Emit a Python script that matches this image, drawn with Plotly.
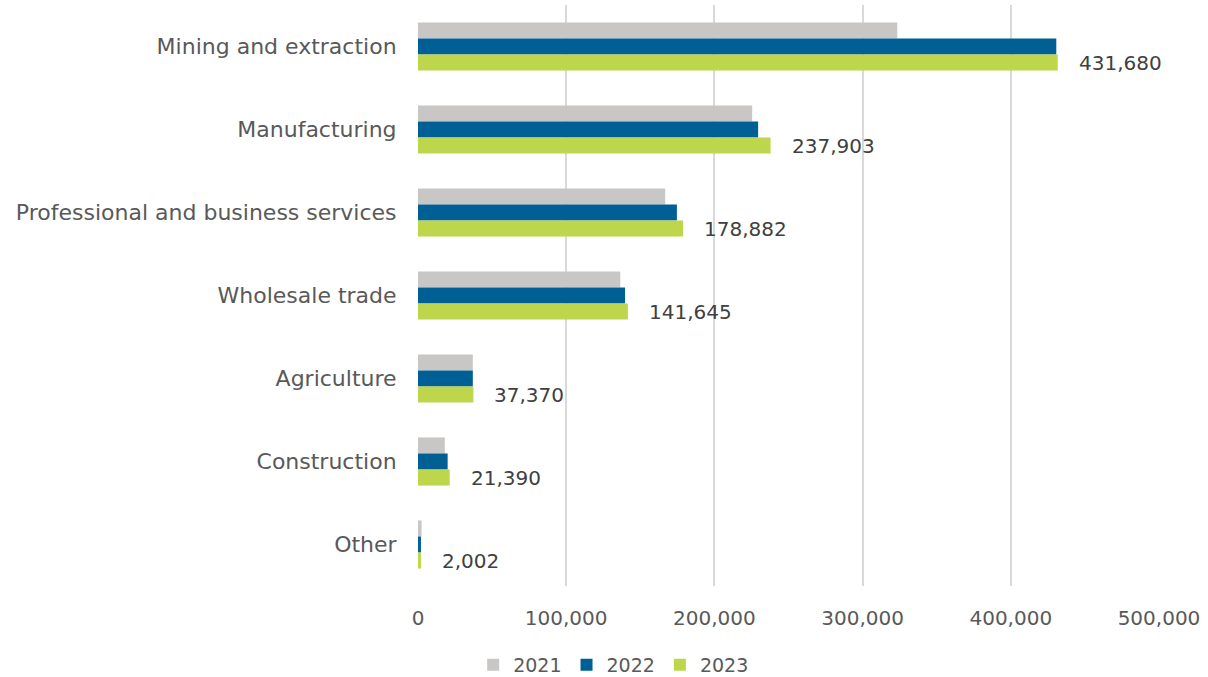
import plotly.graph_objects as go

categories = ["Mining and extraction", "Manufacturing", "Professional and business services",
              "Wholesale trade", "Agriculture", "Construction", "Other"]
years = ["2021", "2022", "2023"]
values_2021 = [323400, 225500, 166800, 136500, 37000, 18100, 2400]
values_2022 = [430700, 229500, 174700, 139700, 37000, 20000, 2000]
values_2023 = [431680, 237903, 178882, 141645, 37370, 21390, 2002]
colors = ["#c8c7c5", "#005f94", "#bed64b"]
x_ticks = [0, 100000, 200000, 300000, 400000, 500000]

FONT = "DejaVu Sans"
fig = go.Figure()
for name, vals, col in zip(years, [values_2021, values_2022, values_2023], colors):
    fig.add_trace(go.Bar(
        y=categories, x=vals, name=name, orientation="h",
        marker=dict(color=col, line=dict(width=0)),
    ))

for cat, v in zip(categories, values_2023):
    fig.add_annotation(
        x=v, y=cat, text=f"{v:,}", showarrow=False,
        xanchor="left", yanchor="middle", xshift=19, yshift=-16,
        font=dict(family=FONT, size=20, color="#404040"),
    )

fig.update_layout(
    width=1208, height=677,
    margin=dict(l=418, r=49, t=5, b=91, autoexpand=False),
    paper_bgcolor="white", plot_bgcolor="white",
    barmode="group", bargap=0.42, bargroupgap=0,
    font=dict(family=FONT, color="#595959"),
    legend=dict(orientation="h", xref="container", x=0.508, xanchor="center",
                yref="container", y=0.018, yanchor="middle",
                font=dict(family=FONT, size=19, color="#595959"),
                traceorder="normal", itemwidth=30),
    xaxis=dict(range=[0, 500000], tickvals=x_ticks, tickformat=",",
               showgrid=True, gridcolor="#d9d9d9", gridwidth=2,
               zeroline=False, showline=False, automargin=False,
               tickfont=dict(family=FONT, size=20, color="#595959"),
               ticks="outside", ticklen=14, tickcolor="rgba(0,0,0,0)"),
    yaxis=dict(autorange="reversed", showgrid=False, zeroline=False, showline=False,
               automargin=False,
               tickfont=dict(family=FONT, size=22, color="#595959"),
               ticks="outside", ticklen=16, tickcolor="rgba(0,0,0,0)"),
)

fig.write_html("out.html", config={"displayModeBar": False},
               post_script="document.body.style.margin='0';")
